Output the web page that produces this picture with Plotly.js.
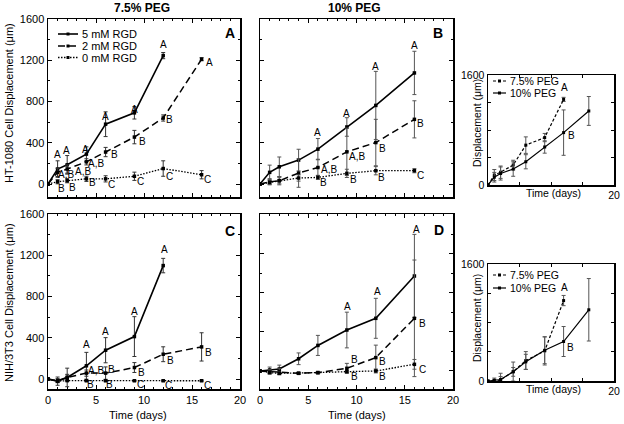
<!DOCTYPE html>
<html><head><meta charset="utf-8">
<script src="https://cdn.plot.ly/plotly-3.0.1.min.js"></script>
<style>html,body{margin:0;padding:0;background:#fff}#chart{width:624px;height:424px}</style>
</head><body><div id="chart"></div>
<script>
// ---------- data ----------
var days = [0, 1, 2, 4, 6, 9, 12, 16];
var days12 = [0, 1, 2, 4, 6, 9, 12];

// Panel A: HT-1080, 7.5% PEG
var a5 = [0, 145, 186, 290, 580, 690, 1245];
var a5err = [0, 80, 90, 70, 120, 60, 30];
var a2 = [0, 113, 145, 215, 310, 455, 640, 1210];
var a2err = [0, 40, 40, 30, 45, 65, 30, 15];
var a0 = [0, 22, 32, 50, 50, 75, 150, 90];
var a0err = [0, 20, 20, 25, 30, 40, 75, 40];

// Panel B: HT-1080, 10% PEG
var b5 = [0, 113, 167, 232, 338, 553, 762, 1077];
var b5err = [0, 70, 95, 105, 103, 90, 330, 210];
var b2 = [0, 22, 32, 106, 160, 312, 402, 627];
var b2err = [0, 30, 40, 138, 80, 230, 225, 180];
var b0 = [0, 16, 32, 58, 64, 103, 129, 129];
var b0err = [0, 20, 30, 30, 20, 40, 40, 20];

// Panel C: NIH/3T3, 7.5% PEG
var c5 = [0, -20, 16, 129, 280, 412, 1100];
var c5err = [0, 40, 90, 130, 122, 193, 70];
var c2 = [0, -15, 16, 58, 58, 112, 241, 312];
var c2err = [0, 20, 30, 30, 60, 48, 72, 137];
var c0 = [0, -20, -15, -16, -16, -16, -16, -16];
var c0err = [0, 5, 5, 5, 5, 5, 5, 5];

// Panel D: NIH/3T3, 10% PEG
var d5 = [0, 10, 20, 125, 262, 420, 540, 974];
var d5err = [0, 30, 40, 60, 103, 183, 205, 427];
var d2 = [0, -7, -7, -24, -17, 27, 137, 540];
var d2err = [0, 20, 30, 10, 10, 51, 128, 598];
var d0 = [0, -17, -24, -24, -17, -7, 0, 68];
var d0err = [0, 15, 15, 5, 10, 10, 20, 50];

// significance letters [x, y, text]
var labA = [[0.94,289,"A"],[1.9,322,"A"],[3.9,331,"A"],[6.0,659,"A"],[9.0,723,"A"],[12.0,1350,"A"],
            [1.9,90,"A,B"],[3.65,122,"A,B"],[5.0,199,"A,B"],[6.9,283,"B"],[9.8,412,"B"],[12.7,627,"B"],[16.8,1180,"A"],
            [1.45,-39,"B"],[2.6,-32,"B"],[4.6,16,"B"],[6.6,0,"C"],[9.6,26,"C"],[12.7,74,"C"],[16.6,42,"C"]];
var labB = [[6.0,498,"A"],[9.0,685,"A"],[12.0,1141,"A"],[16.0,1344,"A"],
            [7.1,138,"A,B"],[10.1,267,"A,B"],[12.7,347,"B"],[16.6,588,"B"],
            [6.6,16,"B"],[9.7,48,"B"],[12.6,64,"B"],[16.6,87,"C"]];
var labC = [[3.96,331,"A"],[6.0,460,"A"],[9.0,659,"A"],[12.1,1254,"A"],
            [5.0,80,"A,B"],[6.65,90,"B"],[9.7,64,"B"],[12.8,183,"B"],[16.7,257,"B"],
            [4.45,-48,"B"],[6.4,-48,"B"],[9.6,-55,"C"],[12.6,-64,"C"],[16.6,-64,"C"]];
var labD = [[9.1,660,"A"],[12.2,814,"A"],[16.25,1456,"A"],
            [9.75,120,"B"],[12.7,96,"B"],[16.8,482,"B"],
            [9.75,-58,"B"],[12.7,-58,"B"],[16.8,17,"C"]];
var labTop = [[12.2,1425,"A"],[13.2,713,"B"]];
var labBot = [[12.2,1274,"A"],[13.1,452,"B"]];

var seriesNames = ["5 mM RGD", "2 mM RGD", "0 mM RGD"];
var insetNames = ["7.5% PEG", "10% PEG"];
var colTitles = ["7.5% PEG", "10% PEG"];
var panelLetters = ["A", "B", "C", "D"];
var yTitles = ["HT-1080 Cell Displacement (\u03bcm)", "NIH/3T3 Cell Displacement (\u03bcm)"];
var xTitle = "Time (days)";
var insetYTitle = "Displacement (\u03bcm)";

// ---------- helpers ----------
var F = "Liberation Sans, Arial, sans-serif";
function px(x){ return x/624; }
function py(y){ return 1 - y/424; }

var STY = {
  s5: {dash:'solid', width:1.6},
  s2: {dash:'7px,4px', width:1.5},
  s0: {dash:'1.5px,1.5px', width:1.3},
  p75: {dash:'3px,2px', width:1.2},
  p10: {dash:'solid', width:1.2}
};

function tr(xa, ya, x, y, err, st, msize, ecol){
  return {type:'scatter', mode:'lines+markers', x:x, y:y, xaxis:xa, yaxis:ya,
    line:{color:'black', dash:st.dash, width:st.width},
    marker:{symbol:'square', size:msize||3.5, color:'black'},
    error_y:{type:'data', array:err, visible:true, color:ecol||'#333', thickness:1, width:2},
    showlegend:false, hoverinfo:'skip'};
}

var data = [
  tr('x','y', days12, a5, a5err, STY.s5),
  tr('x','y', days, a2, a2err, STY.s2),
  tr('x','y', days, a0, a0err, STY.s0),
  tr('x2','y2', days, b5, b5err, STY.s5, 3.5, '#555'),
  tr('x2','y2', days, b2, b2err, STY.s2, 3.5, '#555'),
  tr('x2','y2', days, b0, b0err, STY.s0, 3.5, '#555'),
  tr('x3','y3', days12, c5, c5err, STY.s5),
  tr('x3','y3', days, c2, c2err, STY.s2),
  tr('x3','y3', days, c0, c0err, STY.s0),
  tr('x4','y4', days, d5, d5err, STY.s5, 3.5, '#555'),
  tr('x4','y4', days, d2, d2err, STY.s2, 3.5, '#555'),
  tr('x4','y4', days, d0, d0err, STY.s0, 3.5, '#555'),
  tr('x5','y5', days12, a5, a5err, STY.p75, 3, '#555'),
  tr('x5','y5', days, b5, b5err, STY.p10, 3, '#555'),
  tr('x6','y6', days12, c5, c5err, STY.p75, 3, '#555'),
  tr('x6','y6', days, d5, d5err, STY.p10, 3, '#555')
];

function ax(extra){
  var o = {showline:true, linecolor:'black', linewidth:1.5, mirror:'allticks',
    ticks:'inside', ticklen:4, tickwidth:1, tickcolor:'black',
    zeroline:false, showgrid:false, fixedrange:true,
    tickfont:{size:11, family:F, color:'black'}};
  for (var k in extra) o[k] = extra[k];
  return o;
}
var xMain = function(dom, lab, anchor){ return ax({domain:dom, range:[0,20], dtick:5, tick0:0, anchor:anchor,
  showticklabels:lab, minor:{ticks:'inside', ticklen:2, dtick:1, tickcolor:'black'}}); };
var yMain = function(dom, rng, lab, anchor){ return ax({domain:dom, range:rng, dtick:400, tick0:0, anchor:anchor,
  showticklabels:lab, minor:{ticks:'inside', ticklen:2, dtick:200, tickcolor:'black'}}); };
var xIns = function(dom, anchor){ return ax({domain:dom, range:[0,20], anchor:anchor, tickvals:[0,5,10,15,20],
  ticktext:['','','','','20'], ticklen:3, tickfont:{size:10.5, family:F, color:'black'}}); };
var yIns = function(dom, anchor){ return ax({domain:dom, range:[0,1600], anchor:anchor, tickvals:[0,400,800,1200,1600],
  ticktext:['0','','','','1600'], ticklen:3, tickfont:{size:10.5, family:F, color:'black'}}); };

var xL = [px(48), px(240)], xR = [px(260), px(453)], xI = [px(488), px(614)];
var yTop = [py(197), py(19)], yBot = [py(389), py(214)];

var annotations = [];
function addLabs(labs, xa, ya){
  labs.forEach(function(l){
    annotations.push({x:l[0], y:l[1], xref:xa, yref:ya, text:l[2], showarrow:false,
      font:{size:10, family:F, color:'#000000'}, xanchor:'center', yanchor:'middle'});
  });
}
addLabs(labA,'x','y'); addLabs(labB,'x2','y2'); addLabs(labC,'x3','y3'); addLabs(labD,'x4','y4');
addLabs(labTop,'x5','y5'); addLabs(labBot,'x6','y6');

function pa(x, y, text, opt){
  var o = {x:px(x), y:py(y), xref:'paper', yref:'paper', text:text, showarrow:false,
    font:{size:11, family:F, color:'black'}, xanchor:'center', yanchor:'middle'};
  for (var k in opt) o[k] = opt[k];
  annotations.push(o);
}
pa(142, 8, '<b>'+colTitles[0]+'</b>', {font:{size:12, family:F, color:'black'}});
pa(354, 8, '<b>'+colTitles[1]+'</b>', {font:{size:12, family:F, color:'black'}});
pa(230, 33, '<b>'+panelLetters[0]+'</b>', {font:{size:14, family:F, color:'black'}});
pa(438, 33, '<b>'+panelLetters[1]+'</b>', {font:{size:14, family:F, color:'black'}});
pa(230, 231, '<b>'+panelLetters[2]+'</b>', {font:{size:14, family:F, color:'black'}});
pa(439, 230, '<b>'+panelLetters[3]+'</b>', {font:{size:14, family:F, color:'black'}});
pa(9, 103, yTitles[0], {textangle:-90});
pa(9, 303, yTitles[1], {textangle:-90});
pa(138, 415, xTitle);
pa(357, 415, xTitle);
pa(553, 193, xTitle, {font:{size:10.5, family:F, color:'black'}});
pa(553, 389, xTitle, {font:{size:10.5, family:F, color:'black'}});
pa(477, 123, insetYTitle, {textangle:-90, font:{size:10.5, family:F, color:'black'}});
pa(477, 318, insetYTitle, {textangle:-90, font:{size:10.5, family:F, color:'black'}});

// legends (drawn as shapes + text)
var shapes = [];
function legRow(x0, x1, y, st, text, fs){
  shapes.push({type:'line', xref:'paper', yref:'paper', x0:px(x0), x1:px(x1), y0:py(y), y1:py(y),
    line:{color:'black', width:st.width, dash:st.dash}});
  var m = (x0+x1)/2;
  shapes.push({type:'rect', xref:'paper', yref:'paper', x0:px(m-1.5), x1:px(m+1.5), y0:py(y+1.5), y1:py(y-1.5),
    line:{width:0}, fillcolor:'black'});
  pa(x1+2, y, text, {xanchor:'left', font:{size:fs, family:F, color:'black'}});
}
legRow(58, 78, 34, STY.s5, seriesNames[0], 11);
legRow(58, 78, 46, STY.s2, seriesNames[1], 11);
legRow(58, 78, 57.5, STY.s0, seriesNames[2], 11);
legRow(493, 506, 81, STY.p75, insetNames[0], 10.5);
legRow(493, 506, 93, STY.p10, insetNames[1], 10.5);
legRow(493, 506, 275, STY.p75, insetNames[0], 10.5);
legRow(493, 506, 288, STY.p10, insetNames[1], 10.5);

var layout = {
  width:624, height:424, margin:{l:0, r:0, t:0, b:0},
  paper_bgcolor:'white', plot_bgcolor:'white', showlegend:false,
  font:{family:F, color:'black'},
  xaxis: xMain(xL, false, 'y'),   yaxis: yMain(yTop, [-126,1600], true, 'x'),
  xaxis2: xMain(xR, false, 'y2'), yaxis2: yMain(yTop, [-126,1600], false, 'x2'),
  xaxis3: xMain(xL, true, 'y3'),  yaxis3: yMain(yBot, [-96,1600], true, 'x3'),
  xaxis4: xMain(xR, true, 'y4'),  yaxis4: yMain(yBot, [-185,1610], false, 'x4'),
  xaxis5: xIns(xI, 'y5'), yaxis5: yIns([py(185), py(75)], 'x5'),
  xaxis6: xIns(xI, 'y6'), yaxis6: yIns([py(381), py(264)], 'x6'),
  annotations: annotations, shapes: shapes
};
Plotly.newPlot('chart', data, layout, {staticPlot:true, displayModeBar:false});
</script></body></html>
